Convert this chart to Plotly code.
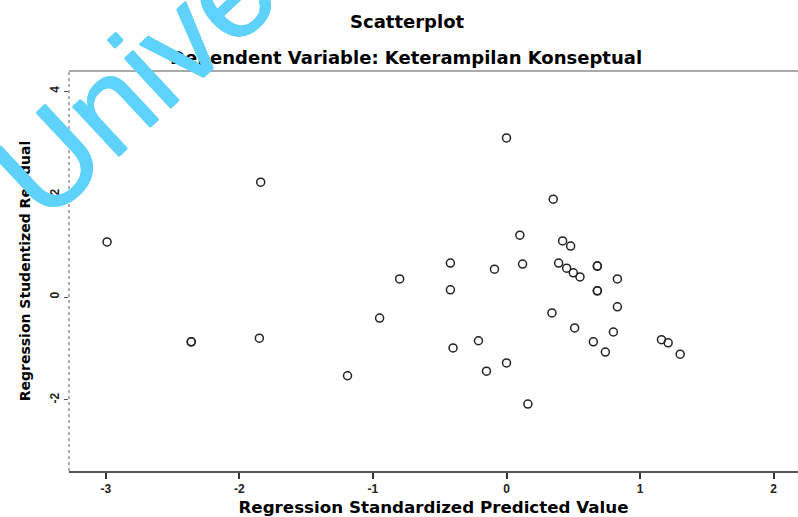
import plotly.graph_objects as go

# Regression standardized predicted value (x) and studentized residual (y)
pred = [-2.99, -2.36, -2.36, -1.84, -1.85, -1.19, -0.95, -0.80, -0.42, -0.42,
        -0.40, -0.21, -0.15, -0.09, 0.00, 0.00, 0.10, 0.12, 0.16, 0.34,
        0.35, 0.42, 0.48, 0.39, 0.45, 0.50, 0.55, 0.68, 0.68, 0.83,
        0.68, 0.68, 0.83, 0.51, 0.80, 0.65, 0.74, 1.16, 1.21, 1.30]
resid = [1.07, -0.87, -0.87, 2.23, -0.80, -1.53, -0.41, 0.35, 0.66, 0.14,
         -0.99, -0.85, -1.44, 0.54, 3.09, -1.28, 1.20, 0.64, -2.08, -0.31,
         1.90, 1.09, 0.99, 0.66, 0.56, 0.47, 0.39, 0.60, 0.60, 0.35,
         0.12, 0.12, -0.19, -0.60, -0.68, -0.87, -1.07, -0.83, -0.89, -1.11]

x_ticks = [-3, -2, -1, 0, 1, 2]
y_ticks = [4, 2, 0, -2]

title_main = "Scatterplot"
title_sub = "Dependent Variable: Keterampilan Konseptual"
x_title = "Regression Standardized Predicted Value"
y_title = "Regression Studentized Residual"
watermark = "Unive"

FONT = "Liberation Sans, Arial, sans-serif"
WIDE = "DejaVu Sans, Liberation Sans, sans-serif"
WM = "#5ED2FA"
wm_shadow = ", ".join("%spx %spx 0 %s" % (dx, dy, WM)
                      for dx, dy in [(0.7, 0), (-0.7, 0), (0, 0.7), (0, -0.7)])

fig = go.Figure()
fig.add_trace(go.Scatter(
    x=pred, y=resid, mode="markers",
    marker=dict(symbol="circle-open", size=8, color="#222222",
                line=dict(width=1.5, color="#222222")),
    hoverinfo="x+y", showlegend=False,
))

fig.update_layout(
    width=798, height=517,
    margin=dict(l=69, r=0, t=71, b=46),
    paper_bgcolor="white", plot_bgcolor="white",
    font=dict(family=FONT, color="#111111"),
    xaxis=dict(range=[-3.275, 2.182], tickvals=x_ticks,
               ticktext=["<b>%d</b>" % v for v in x_ticks],
               ticks="outside", ticklen=6, tickwidth=1.5, tickcolor="#333333",
               showgrid=False, zeroline=False,
               showline=True, linecolor="#555555", linewidth=2,
               tickfont=dict(size=12, color="#222222", family=FONT),
               title=dict(text="<b>" + x_title + "</b>", standoff=6,
                          font=dict(size=16.7, color="#000000", family=WIDE))),
    yaxis=dict(range=[-3.38, 4.39], tickvals=y_ticks,
               ticktext=["<b>%d</b>" % v for v in y_ticks], tickangle=-90,
               ticks="outside", ticklen=4, tickwidth=1, tickcolor="#555555",
               showgrid=False, zeroline=False, showline=False,
               tickfont=dict(size=12, color="#222222", family=FONT),
               title=dict(text="<b>" + y_title + "</b>", standoff=14,
                          font=dict(size=14, color="#000000", family=WIDE))),
    shapes=[
        dict(type="line", xref="paper", yref="paper", x0=0, x1=0, y0=0, y1=1,
             line=dict(color="#777777", width=1.2, dash="dot")),
        dict(type="line", xref="paper", yref="paper", x0=0, x1=1, y0=1, y1=1,
             line=dict(color="#555555", width=1.2)),
    ],
    annotations=[
        dict(text="<b>" + title_main + "</b>", xref="paper", yref="paper",
             x=(407 - 69) / 729, y=(471 - 22) / 400, xanchor="center", yanchor="middle",
             showarrow=False, font=dict(size=18, color="#000000", family=WIDE)),
        dict(text="<b>" + title_sub + "</b>", xref="paper", yref="paper",
             x=(406 - 69) / 729, y=(471 - 57) / 400, xanchor="center", yanchor="middle",
             showarrow=False, font=dict(size=18, color="#000000", family=WIDE)),
        dict(text=watermark, xref="paper", yref="paper",
             x=(134 - 69) / 729, y=(471 - 82) / 400, xanchor="center", yanchor="middle",
             textangle=-43, showarrow=False,
             font=dict(size=128, color=WM, family=FONT, shadow=wm_shadow)),
    ],
)

fig.write_html("out.html")
